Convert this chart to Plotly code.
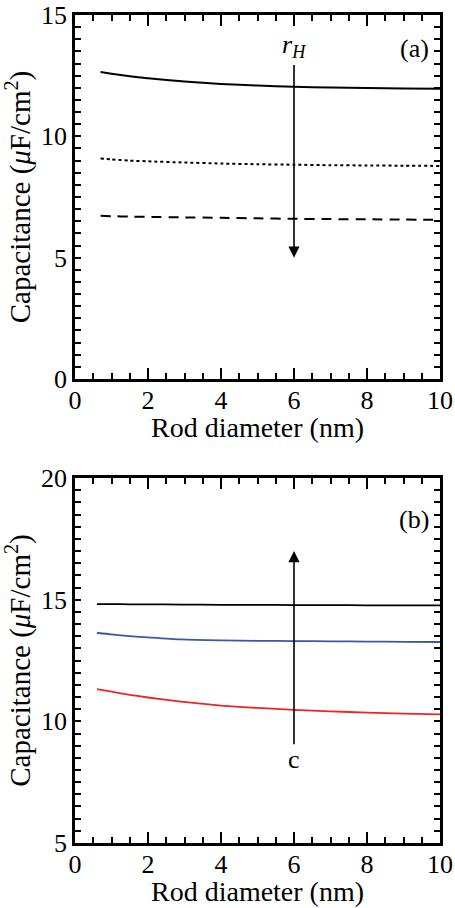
import plotly.graph_objects as go

# ---- data: panel (a), capacitance vs rod diameter for three r_H values ----
dia_a = [0.7, 1.0, 1.5, 2.0, 3.0, 4.0, 5.0, 6.0, 7.0, 8.0, 9.0, 10.0]
cap_a_solid = [12.65, 12.58, 12.48, 12.39, 12.26, 12.16, 12.09, 12.04, 12.01, 11.99, 11.97, 11.96]
cap_a_dot = [9.09, 9.05, 9.00, 8.97, 8.92, 8.88, 8.85, 8.83, 8.81, 8.80, 8.79, 8.78]
cap_a_dash = [6.73, 6.71, 6.69, 6.68, 6.66, 6.64, 6.62, 6.60, 6.59, 6.58, 6.57, 6.56]

# ---- data: panel (b), capacitance vs rod diameter for three c values ----
dia_b = [0.6, 1.0, 1.5, 2.0, 2.9, 4.0, 5.0, 6.0, 7.0, 8.0, 9.0, 10.0]
cap_b_black = [14.82, 14.82, 14.81, 14.81, 14.80, 14.79, 14.79, 14.78, 14.78, 14.77, 14.77, 14.77]
cap_b_blue = [13.64, 13.57, 13.50, 13.45, 13.37, 13.33, 13.31, 13.30, 13.29, 13.28, 13.27, 13.26]
cap_b_red = [11.32, 11.22, 11.09, 10.98, 10.81, 10.65, 10.55, 10.47, 10.41, 10.36, 10.32, 10.29]

# axis ticks
x_ticks = [0, 2, 4, 6, 8, 10]
ya_labels = [0, 5, 10, 15]
yb_labels = [5, 10, 15, 20]
y_long_dtick = 2.5

FONT = "Liberation Serif"
X_TITLE = "Rod diameter (nm)"
Y_TITLE = "Capacitance (<i>μ</i>F/cm<sup>2</sup>)"

fig = go.Figure()

def curve(x, y, ax, color="black", width=2, dash=None):
    fig.add_trace(go.Scatter(x=x, y=y, mode="lines",
                             line=dict(color=color, width=width, dash=dash, shape="spline", smoothing=0.6),
                             xaxis=ax[0], yaxis=ax[1]))

curve(dia_a, cap_a_solid, ("x", "y"))
curve(dia_a, cap_a_dot, ("x", "y"), dash="3px,3px")
curve(dia_a, cap_a_dash, ("x", "y"), dash="10px,7px")
curve(dia_b, cap_b_black, ("x2", "y2"), width=1.8)
curve(dia_b, cap_b_blue, ("x2", "y2"), color="#3a58a8", width=1.8)
curve(dia_b, cap_b_red, ("x2", "y2"), color="#ee2424", width=1.8)

tick_style = dict(ticks="inside", tickwidth=1.5, tickcolor="black")
frame = dict(showline=True, linewidth=2.5, linecolor="black", mirror="ticks", showgrid=False,
             zeroline=False, automargin=False)
minor_style = dict(dtick=0.5, ticks="inside", ticklen=6, tickwidth=1.5, tickcolor="black", showgrid=False)

common_x = dict(
    frame, **tick_style, range=[0, 10], tickvals=x_ticks, ticklen=11, ticklabelstandoff=-4,
    minor=dict(minor_style, tick0=0),
    tickfont=dict(family=FONT, size=26, color="black"),
)
common_y = dict(
    frame, **tick_style, ticklen=6,
    tickfont=dict(family=FONT, size=26, color="black"),
    title=dict(text=Y_TITLE, font=dict(family=FONT, size=29, color="black"), standoff=2),
)
# overlay axes carrying the longer unlabelled ticks every 2.5 units
long_y = dict(frame, **tick_style, ticklen=11, dtick=y_long_dtick, showticklabels=False)

dom_a = [0.5604, 1]
dom_b = [0, 0.4408]

fig.update_layout(
    width=455, height=908,
    margin=dict(l=75, r=15, t=15, b=65),
    paper_bgcolor="white", plot_bgcolor="white",
    showlegend=False,
    xaxis=dict(common_x, domain=[0, 1], anchor="y"),
    yaxis=dict(common_y, domain=dom_a, range=[0, 15], tickvals=ya_labels,
               minor=dict(minor_style, tick0=0), anchor="x"),
    yaxis3=dict(long_y, range=[0, 15], tick0=0, overlaying="y", anchor="x"),
    xaxis2=dict(common_x, domain=[0, 1], anchor="y2"),
    yaxis2=dict(common_y, domain=dom_b, range=[5, 20], tickvals=yb_labels,
                minor=dict(minor_style, tick0=5), anchor="x2"),
    yaxis4=dict(long_y, range=[5, 20], tick0=5, overlaying="y2", anchor="x2"),
)

# x-axis titles under each panel
for ypos in (0.502, -0.0585):
    fig.add_annotation(x=0.5, y=ypos, xref="paper", yref="paper", text=X_TITLE, showarrow=False,
                       yanchor="middle", font=dict(family=FONT, size=28, color="black"))

# arrows indicating trend direction
fig.add_annotation(x=6, y=5.0, ax=6, ay=13.0, xref="x", yref="y", axref="x", ayref="y",
                   showarrow=True, text="", arrowhead=2, arrowsize=1.4, arrowwidth=1.6, arrowcolor="black")
fig.add_annotation(x=6, y=17.0, ax=6, ay=9.0, xref="x2", yref="y2", axref="x2", ayref="y2",
                   showarrow=True, text="", arrowhead=2, arrowsize=1.4, arrowwidth=1.6, arrowcolor="black")

# text labels
fig.add_annotation(x=6, y=13.0, xref="x", yref="y", text="<i>r</i><sub><i>H</i></sub>", showarrow=False,
                   yanchor="bottom", font=dict(family=FONT, size=26, color="black"))
fig.add_annotation(x=9.3, y=13.6, xref="x", yref="y", text="(a)", showarrow=False,
                   font=dict(family=FONT, size=26, color="black"))
fig.add_annotation(x=9.3, y=18.3, xref="x2", yref="y2", text="(b)", showarrow=False,
                   font=dict(family=FONT, size=26, color="black"))
fig.add_annotation(x=6, y=8.45, xref="x2", yref="y2", text="c", showarrow=False, yanchor="middle",
                   font=dict(family=FONT, size=26, color="black"))

fig.write_html("out.html")
